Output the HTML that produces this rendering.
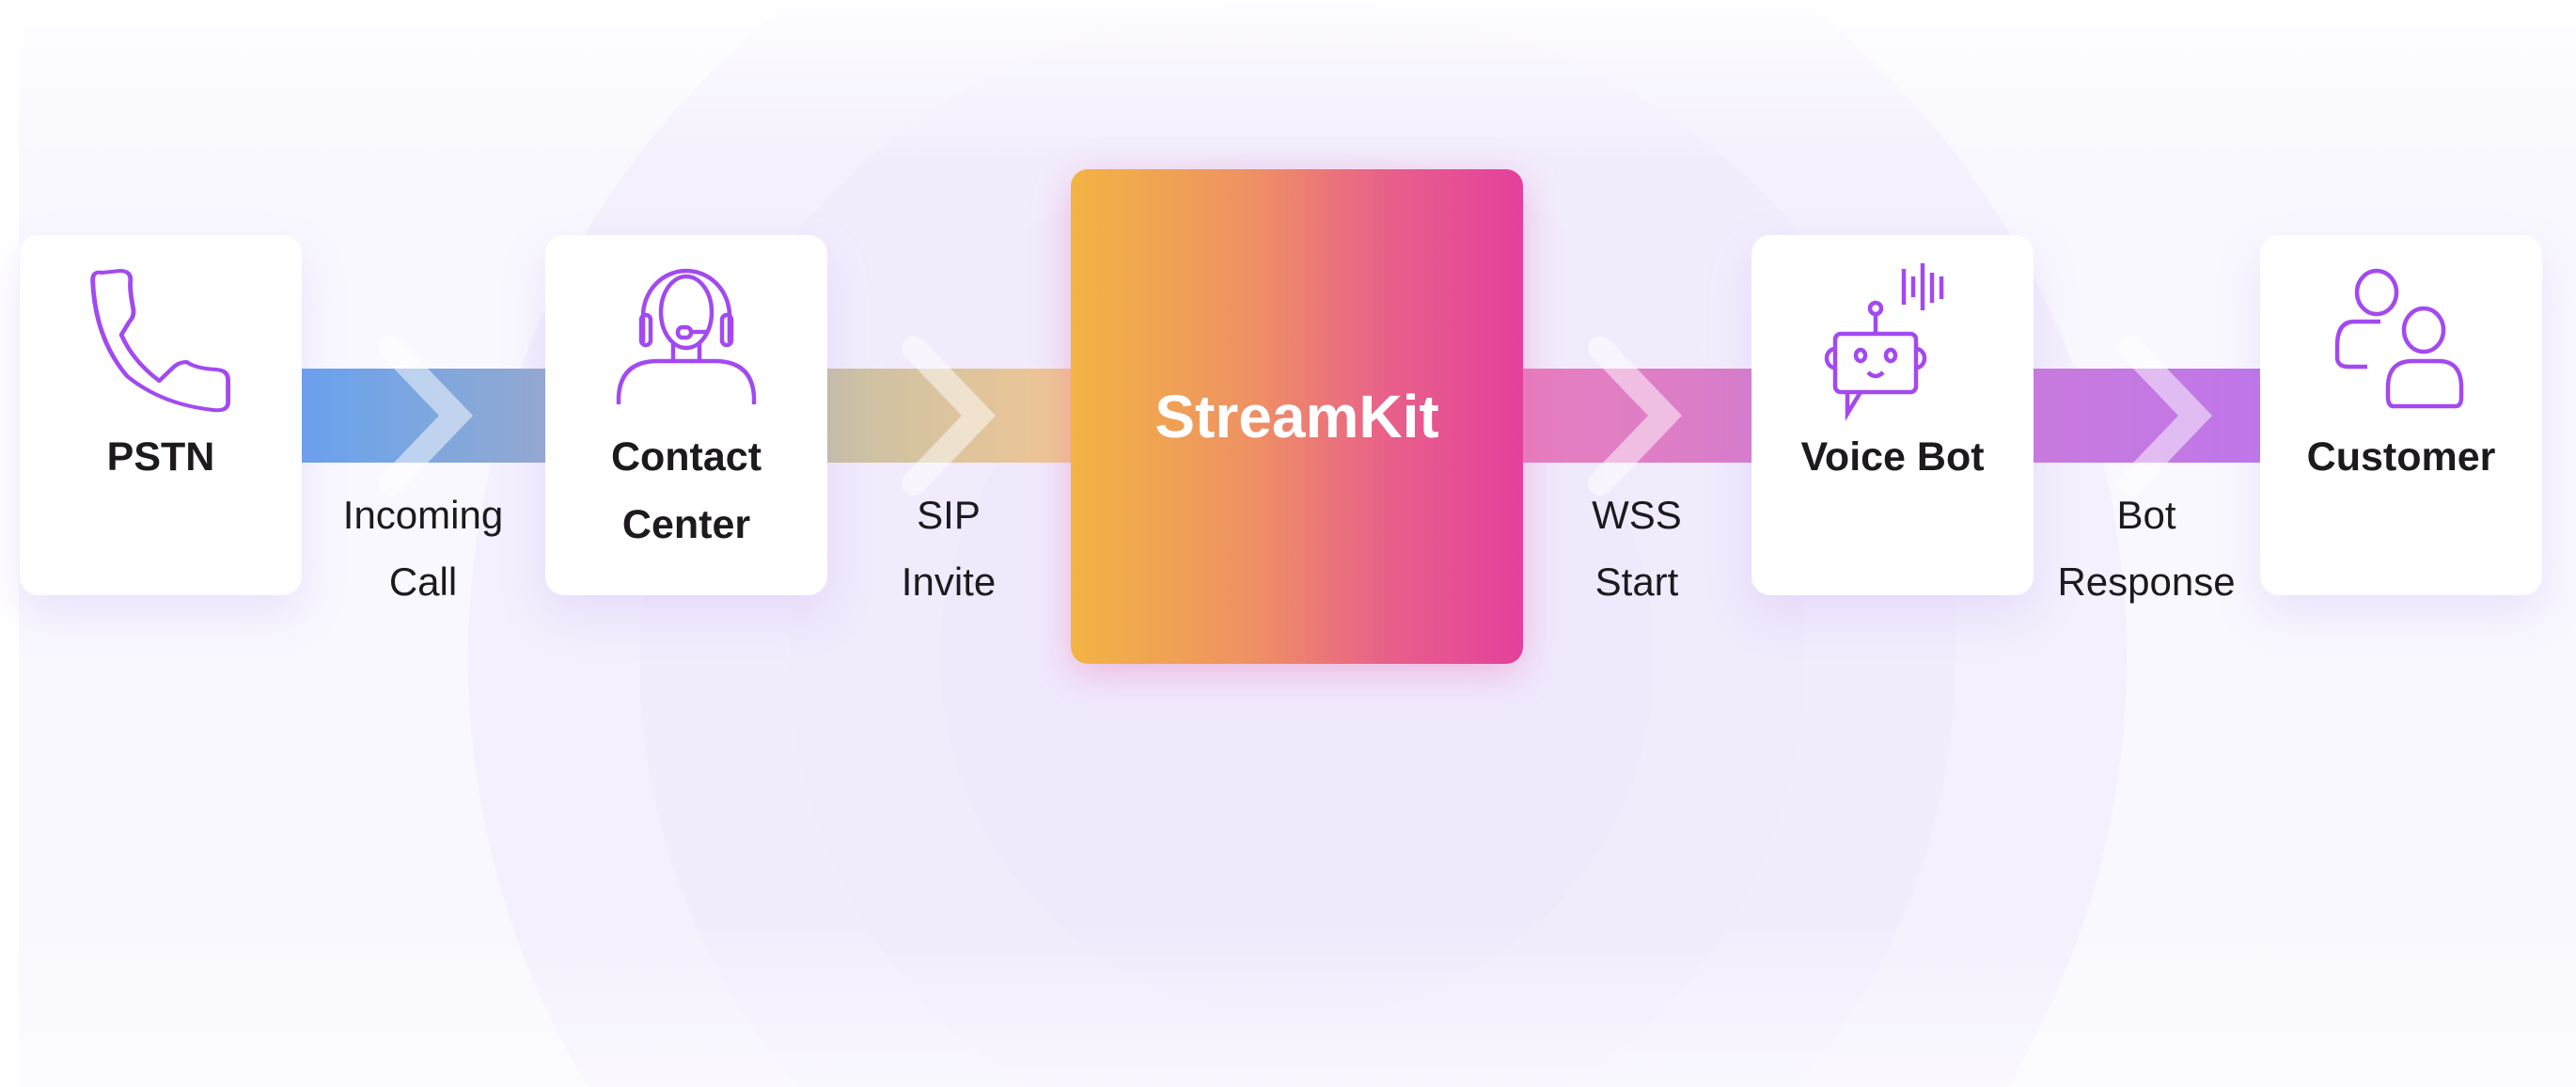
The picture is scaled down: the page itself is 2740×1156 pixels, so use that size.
<!DOCTYPE html>
<html><head><meta charset="utf-8"><style>
html,body{margin:0;padding:0}
body{width:2740px;height:1156px;position:relative;overflow:hidden;background:#fbfaff;font-family:"Liberation Sans",sans-serif}
.bg{position:absolute;left:0;top:0}
.card{position:absolute;top:250px;width:300px;height:383px;background:#fff;border-radius:20px;box-shadow:0 20px 50px rgba(170,130,240,0.18)}
.card svg{position:absolute;left:0;top:0}
.t{position:absolute;left:0;width:100%;text-align:center;font-weight:bold;font-size:43px;color:#1d1a1e;line-height:72px;top:200px}
.band{position:absolute;top:392px;height:100px}
.lab{position:absolute;top:512px;width:260px;text-align:center;font-size:42px;color:#1d1a1e;line-height:71px}
.chev{position:absolute;top:0;left:0}
.sk{position:absolute;left:1139px;top:180px;width:481px;height:526px;border-radius:18px;background:linear-gradient(90deg,#f2b443 0%,#ee9163 40%,#e8608a 70%,#e4409c 100%);box-shadow:0 10px 40px rgba(235,90,170,0.35);color:#fff;font-weight:bold;font-size:64px;text-align:center;line-height:526px}
</style></head><body>
<svg class="bg" width="2740" height="1156">
<defs>
<linearGradient id="fade" x1="0" y1="0" x2="0" y2="1">
<stop offset="0" stop-color="#fff" stop-opacity="0.9"/><stop offset="0.15" stop-color="#fff" stop-opacity="0"/><stop offset="0.85" stop-color="#fff" stop-opacity="0"/><stop offset="1" stop-color="#fff" stop-opacity="0.6"/>
</linearGradient>
</defs>
<rect width="2740" height="1156" fill="#f9f8fe"/>
<circle cx="1380" cy="700" r="882" fill="#f4f0fd"/>
<circle cx="1380" cy="700" r="700" fill="#f2edfd"/>
<circle cx="1380" cy="700" r="540" fill="#f1ebfc"/>
<circle cx="1380" cy="700" r="380" fill="#f0e9fc"/>
<rect width="2740" height="1156" fill="url(#fade)"/>
<rect x="0" y="0" width="20" height="1156" fill="#fff"/>
</svg>

<div class="band" style="left:320px;width:260px;background:linear-gradient(90deg,#68a2ee,#93aad0)"></div>
<div class="band" style="left:879px;width:260px;background:linear-gradient(90deg,#c8c1a6,#f0c694)"></div>
<div class="band" style="left:1620px;width:243px;background:linear-gradient(90deg,#e77ebf,#d87dcb)"></div>
<div class="band" style="left:2162px;width:242px;background:linear-gradient(90deg,#c97bdd,#bf76e9)"></div>
<svg class="chev" width="2740" height="1156">
<g fill="none" stroke="#fff" stroke-opacity="0.5" stroke-width="26" stroke-linecap="round" stroke-linejoin="miter">
<polyline points="416,370 485,442 416,514"/>
<polyline points="972,370 1041,442 972,514"/>
<polyline points="1702,370 1771,442 1702,514"/>
<polyline points="2266,370 2335,442 2266,514"/>
</g>
</svg>

<div class="lab" style="left:320px">Incoming<br>Call</div>
<div class="lab" style="left:879px">SIP<br>Invite</div>
<div class="lab" style="left:1611px">WSS<br>Start</div>
<div class="lab" style="left:2153px">Bot<br>Response</div>

<div class="card" style="left:21px">
<svg width="300" height="250"><g transform="translate(-20,-8) scale(1.22,1.0)"><path d="M88,48 Q80,46 80,56 Q82,118 110,158 Q140,188 185,194 Q199,196 198,184 L198,162 Q198,152 188,151 Q170,150 162,143 Q155,143 150,149 L138,163 Q115,142 105,114 L112,100 Q117,94 115,84 Q112,64 113,56 Q113,46 104,46 Z" fill="none" stroke="#a24af0" stroke-width="4" stroke-linejoin="round"/></g></svg>
<div class="t">PSTN</div></div>

<div class="card" style="left:580px">
<svg width="300" height="250">
<g fill="none" stroke="#a24af0" stroke-width="4.5">
<path d="M104,114 V86 A46,48 0 0 1 196,86 V114"/>
<ellipse cx="150" cy="82" rx="27" ry="38"/>
<rect x="102" y="85" width="10" height="32" rx="5"/><rect x="188" y="85" width="10" height="32" rx="5"/>
<rect x="141" y="98" width="14" height="11" rx="5"/><line x1="155" y1="103" x2="172" y2="103"/>
<line x1="136" y1="116" x2="136" y2="134"/><line x1="164" y1="116" x2="164" y2="134"/>
<path d="M78,180 V172 Q80,134 120,134 H180 Q220,134 222,172 V180"/>
</g></svg>
<div class="t">Contact<br>Center</div></div>

<div class="sk">StreamKit</div>

<div class="card" style="left:1863px">
<svg width="300" height="250">
<g fill="none" stroke="#a24af0" stroke-width="4.5">
<rect x="89" y="105" width="86" height="62" rx="6"/>
<path d="M102,167 L102,190 L116,167"/>
<line x1="132" y1="105" x2="132" y2="84"/><circle cx="132" cy="78" r="6"/>
<path d="M89,121 A9,10 0 0 0 89,141"/><path d="M175,121 A9,10 0 0 1 175,141"/>
<ellipse cx="116" cy="128" rx="5" ry="6"/><ellipse cx="148" cy="128" rx="5" ry="6"/>
<path d="M124,146 Q132,154 140,146"/>
<line x1="162" y1="36" x2="162" y2="74"/><line x1="172" y1="44" x2="172" y2="66"/><line x1="182" y1="30" x2="182" y2="80"/><line x1="192" y1="40" x2="192" y2="72"/><line x1="202" y1="44" x2="202" y2="68"/>
</g></svg>
<div class="t">Voice Bot</div></div>

<div class="card" style="left:2404px">
<svg width="300" height="250">
<g fill="none" stroke="#a24af0" stroke-width="4.5">
<ellipse cx="124" cy="61" rx="21" ry="23"/>
<path d="M128,92 H100 Q82,92 82,118 V130 Q82,140 94,140 H114"/>
<ellipse cx="174" cy="101" rx="21" ry="23"/>
<path d="M140,182 H208 Q214,182 214,172 V162 Q214,134 190,134 H162 Q136,134 136,162 V172 Q136,182 142,182"/>
</g></svg>
<div class="t">Customer</div></div>
</body></html>
